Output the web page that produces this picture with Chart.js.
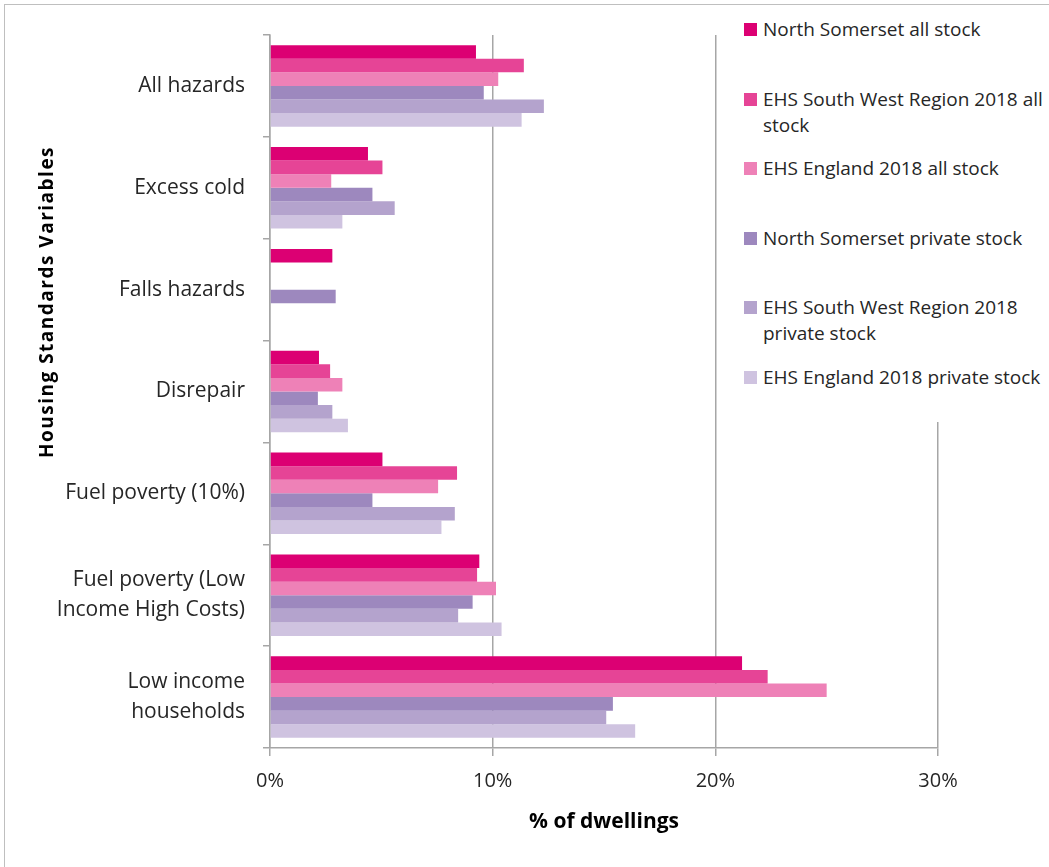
<!DOCTYPE html>
<html>
<head>
<meta charset="utf-8">
<title>Housing Standards Variables</title>
<script src="https://cdn.jsdelivr.net/npm/chart.js@4.4.1/dist/chart.umd.min.js"></script>
<style>
    html, body { margin: 0; padding: 0; background: #fff; }
    #wrap { position: relative; width: 1049px; height: 867px; overflow: hidden; }
    #legend {
        position: absolute; left: 726px; top: 6px; width: 323px; height: 416px;
        background: #fff; font-family: "Open Sans", Lato, sans-serif; font-size: 19px; color: #262626;
    }
    .legend-item { position: absolute; left: 18px; display: flex; align-items: flex-start; line-height: 26px; white-space: nowrap; }
    .legend-box { width: 13px; height: 13px; margin: 7px 6px 0 0; flex: none; }
</style>
</head>
<body>
<div id="wrap">
    <canvas id="chart" width="1049" height="867"></canvas>
    <div id="legend"></div>
</div>
<script>
const categories = [
    'All hazards',
    'Excess cold',
    'Falls hazards',
    'Disrepair',
    'Fuel poverty (10%)',
    ['Fuel poverty (Low', 'Income High Costs)'],
    ['Low income', 'households']
];

const seriesNames = [
    ['North Somerset all stock'],
    ['EHS South West Region 2018 all', 'stock'],
    ['EHS England 2018 all stock'],
    ['North Somerset private stock'],
    ['EHS South West Region 2018', 'private stock'],
    ['EHS England 2018 private stock']
];

const seriesColors = ['#DC0073', '#E64496', '#EE81B7', '#9D88BE', '#B4A3CD', '#CFC3E0'];

// values in % of dwellings, one array per series (null = not shown)
const northSomersetAll = [9.25, 4.4, 2.8, 2.2, 5.05, 9.4, 21.2];
const swRegionAll = [11.4, 5.05, null, 2.7, 8.4, 9.3, 22.35];
const englandAll = [10.25, 2.75, null, 3.25, 7.55, 10.15, 25.0];
const northSomersetPrivate = [9.6, 4.6, 2.95, 2.15, 4.6, 9.1, 15.4];
const swRegionPrivate = [12.3, 5.6, null, 2.8, 8.3, 8.45, 15.1];
const englandPrivate = [11.3, 3.25, null, 3.5, 7.7, 10.4, 16.4];

const seriesValues = [northSomersetAll, swRegionAll, englandAll, northSomersetPrivate, swRegionPrivate, englandPrivate];

const xTicks = [0, 10, 20, 30];
const xTitle = '% of dwellings';
const yTitle = 'Housing Standards Variables';

const fontFamily = '"Open Sans", Lato, sans-serif';
const gridColor = '#A6A6A6';
const textColor = '#262626';

const framePlugin = {
    id: 'framePlugin',
    beforeDraw(chart) {
        const ctx = chart.ctx;
        ctx.save();
        ctx.fillStyle = '#fff';
        ctx.fillRect(0, 0, chart.width, chart.height);
        ctx.restore();
    },
    afterDraw(chart) {
        const ctx = chart.ctx;
        ctx.save();
        ctx.strokeStyle = '#BFBFBF';
        ctx.lineWidth = 1;
        ctx.strokeRect(4.5, 4.5, chart.width + 10, chart.height + 10);

        // y-axis title, rotated
        ctx.translate(48, 302);
        ctx.rotate(-Math.PI / 2);
        ctx.font = 'bold 19px ' + fontFamily;
        ctx.letterSpacing = '1.5px';
        ctx.fillStyle = '#000';
        ctx.textAlign = 'center';
        ctx.textBaseline = 'middle';
        ctx.fillText(yTitle, 0, 0);
        ctx.restore();
    }
};

function buildDatasets() {
    return seriesValues.map((values, i) => ({
        label: seriesNames[i].join(' '),
        data: values,
        backgroundColor: seriesColors[i],
        borderWidth: 0,
        categoryPercentage: 0.8,
        barPercentage: 1.0
    }));
}

function buildLegend() {
    const legend = document.getElementById('legend');
    seriesNames.forEach((lines, i) => {
        const item = document.createElement('div');
        item.className = 'legend-item';
        item.style.top = (10 + i * 69.6) + 'px';
        const box = document.createElement('span');
        box.className = 'legend-box';
        box.style.background = seriesColors[i];
        const text = document.createElement('span');
        text.innerHTML = lines.join('<br>');
        item.appendChild(box);
        item.appendChild(text);
        legend.appendChild(item);
    });
}

const ctx = document.getElementById('chart').getContext('2d');
const chart = new Chart(ctx, {
    type: 'bar',
    data: {
        labels: categories,
        datasets: buildDatasets()
    },
    options: {
        indexAxis: 'y',
        responsive: false,
        animation: false,
        layout: {
            padding: { top: 35, right: 111, bottom: 0, left: 0 }
        },
        plugins: {
            legend: { display: false },
            tooltip: { enabled: false }
        },
        scales: {
            x: {
                min: xTicks[0],
                max: xTicks[xTicks.length - 1],
                afterBuildTicks(scale) {
                    scale.ticks = xTicks.map(v => ({ value: v }));
                },
                afterFit(scale) {
                    scale.height = 119;
                    scale.paddingLeft = 0;
                    scale.paddingRight = 0;
                },
                grid: {
                    color: gridColor,
                    lineWidth: 1.5,
                    tickLength: 8,
                    drawTicks: true
                },
                border: { display: true, color: gridColor, width: 1.5 },
                ticks: {
                    callback: v => v + '%',
                    color: textColor,
                    font: { family: fontFamily, size: 20 },
                    padding: 13,
                    maxRotation: 0
                },
                title: {
                    display: true,
                    text: xTitle,
                    color: '#000',
                    font: { family: fontFamily, size: 21, weight: 'bold' },
                    padding: { top: 4, bottom: 32 }
                }
            },
            y: {
                afterFit(scale) {
                    scale.width = 270;
                    scale.paddingTop = 0;
                    scale.paddingBottom = 0;
                },
                grid: {
                    color: gridColor,
                    lineWidth: 1.5,
                    tickLength: 7,
                    drawOnChartArea: false,
                    offset: true
                },
                border: { display: true, color: gridColor, width: 1.5 },
                ticks: {
                    color: textColor,
                    font: { family: fontFamily, size: 21, lineHeight: 1.4 },
                    padding: 18
                }
            }
        }
    },
    plugins: [framePlugin]
});

buildLegend();
</script>
</body>
</html>
